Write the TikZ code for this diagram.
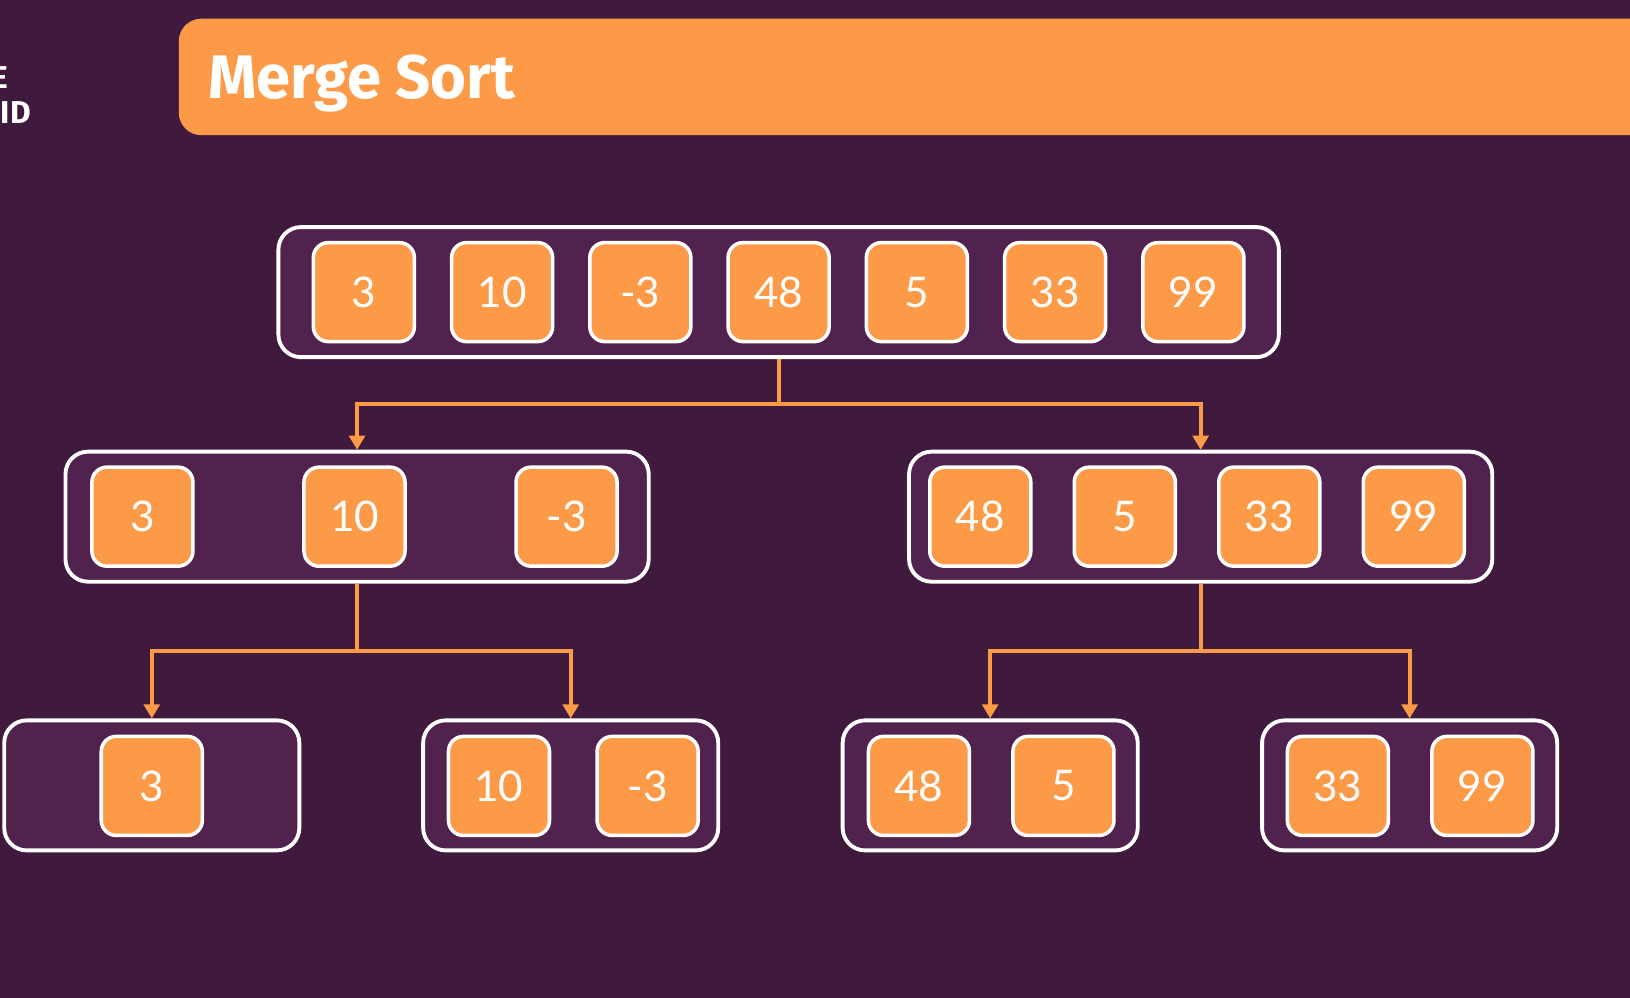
\documentclass[tikz,border=0pt]{standalone}
\usepackage{fontspec}
\setmainfont{Lato}
\newfontfamily\headfont{Fira Sans}
\usetikzlibrary{arrows.meta}

\definecolor{bgpurple}{RGB}{63,26,60}
\definecolor{grpurple}{RGB}{82,34,79}
\definecolor{msorange}{RGB}{253,154,72}

\begin{document}
\begin{tikzpicture}[x=0.02079cm,y=-0.02079cm,>={Triangle[width=9pt,length=8pt]},
  cell/.style={draw=white,line width=2pt,fill=msorange,rounded corners=0.3cm,
    minimum width=2.02cm,minimum height=1.98cm,inner sep=0pt,text=white,
    font=\fontsize{24}{24}\selectfont},
  group/.style={draw=white,line width=2.2pt,fill=grpurple,rounded corners=0.45cm,
    minimum height=2.6cm,inner sep=0pt},
  link/.style={msorange,line width=2.2pt}]
  \useasboundingbox (0,0) rectangle (1568,960);
  \fill[bgpurple] (0,0) rectangle (1568,960);

  % header
  \fill[msorange,rounded corners=0.45cm] (172,18) rectangle (1640,130);
  \node[anchor=base west,inner sep=0pt,text=white,
    font=\headfont\bfseries\fontsize{35}{35}\selectfont] (title) at (200,95) {Merge Sort};
  \node[anchor=base east,inner sep=0pt,text=white,
    font=\headfont\bfseries\fontsize{18}{18}\selectfont] (logoa) at (8,85) {E};
  \node[anchor=base east,inner sep=0pt,text=white,
    font=\headfont\bfseries\fontsize{18}{18}\selectfont] (logob) at (30,119) {ID};

  % groups
  \node[group,minimum width=20.0cm] (all) at (749,281) {};
  \node[group,minimum width=11.66cm] (left) at (343.5,497) {};
  \node[group,minimum width=11.66cm] (right) at (1155,497) {};
  \node[group,minimum width=5.9cm] (ll) at (146,755.5) {};
  \node[group,minimum width=5.9cm] (lr) at (549,755.5) {};
  \node[group,minimum width=5.9cm] (rl) at (952.5,755.5) {};
  \node[group,minimum width=5.9cm] (rr) at (1356,755.5) {};

  % cells
  \foreach \v [count=\i] in {3,10,-3,48,5,33,99}
    \node[cell] (t\i) at ({749+(\i-4)*133},281) {\v};
  \foreach \v/\x [count=\i] in {3/137,10/341,-3/545}
    \node[cell] (l\i) at (\x,497) {\v};
  \foreach \v/\x [count=\i] in {48/943,5/1082,33/1221,99/1360}
    \node[cell] (r\i) at (\x,497) {\v};
  \foreach \v/\x/\n in {3/146/lla,10/480/lra,-3/623/lrb,48/884/rla,5/1023/rlb,33/1287/rra,99/1426/rrb}
    \node[cell] (\n) at (\x,756) {\v};

  % splits
  \coordinate (j1) at (749,389);
  \coordinate (j2) at (343.5,626);
  \coordinate (j3) at (1155,626);
  \draw[link] (all.south) -- (j1);
  \draw[link,->] (j1) -| (left.north);
  \draw[link,->] (j1) -| (right.north);
  \draw[link] (left.south) -- (j2);
  \draw[link,->] (j2) -| (ll.north);
  \draw[link,->] (j2) -| (lr.north);
  \draw[link] (right.south) -- (j3);
  \draw[link,->] (j3) -| (rl.north);
  \draw[link,->] (j3) -| (rr.north);
\end{tikzpicture}
\end{document}
